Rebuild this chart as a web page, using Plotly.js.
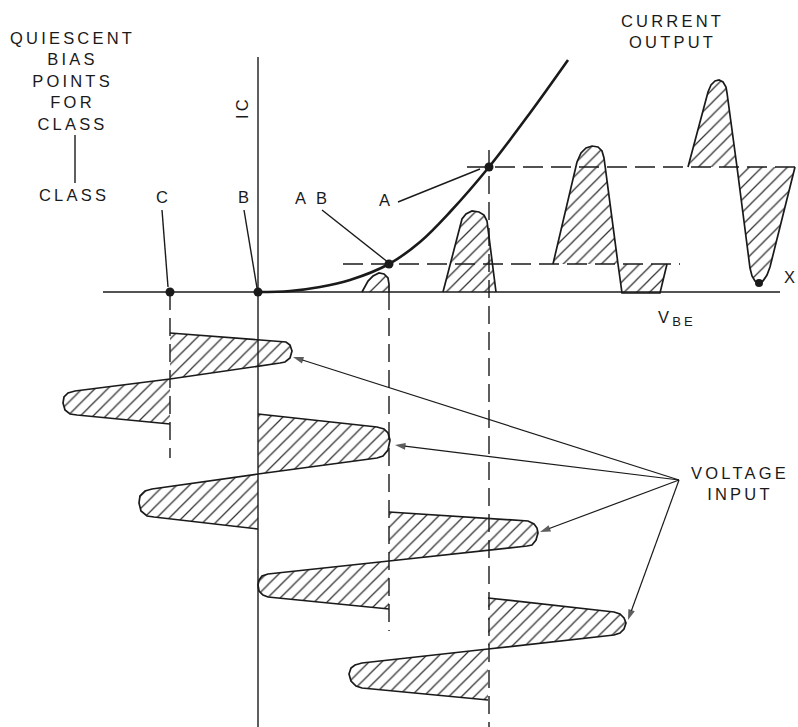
<!DOCTYPE html>
<html>
<head>
<meta charset="utf-8">
<script src="https://cdn.plot.ly/plotly-3.0.1.min.js"></script>
<style>
  html, body { margin: 0; padding: 0; background: #fff; }
  #chart { width: 798px; height: 727px; }
  .annotation-text { letter-spacing: 3.2px; }
</style>
</head>
<body>
<div id="chart"></div>
<script>
// ---- Data (diagram units: x to the right, y downward) ----
const biasClass = ['C', 'B', 'A B', 'A'];
const biasX = [170, 258, 389, 489];
const biasY = [292, 292, 264, 167];

// transfer characteristic Ic vs Vbe
const curveX = [258, 290, 320, 350, 389, 420, 450, 489, 530, 568];
const curveY = [292, 291, 287, 280, 264, 242, 212, 167, 113, 60];

// voltage input waveforms (two lobes each, separated by null)
const inputCX  = [170, 280, 286, 290, 292, 290, 285, 280, 170, null, 170, 75, 68, 64, 63, 65, 70, 77, 170];
const inputCY  = [333, 341, 342, 345, 351, 358, 362, 363, 379, null, 379, 391, 393, 397, 403, 410, 414, 415, 424];
const inputBX  = [258, 377, 384, 388, 390, 388, 383, 377, 258, null, 258, 152, 145, 140, 139, 141, 147, 154, 258];
const inputBY  = [414, 427, 429, 433, 440, 450, 456, 458, 474, null, 474, 489, 491, 496, 503, 511, 516, 517, 529];
const inputABX = [389, 528, 534, 537, 538, 536, 532, 527, 389, null, 389, 268, 262, 259, 258, 259, 263, 268, 389];
const inputABY = [512, 521, 524, 528, 533, 540, 545, 546, 561, null, 561, 574, 576, 580, 585, 591, 595, 597, 609];
const inputAX  = [488, 614, 620, 624, 626, 624, 620, 614, 488, null, 488, 362, 355, 351, 349, 351, 356, 362, 488];
const inputAY  = [598, 612, 614, 618, 623, 629, 633, 635, 649, null, 649, 663, 665, 668, 674, 681, 686, 688, 700];

// current output waveforms
const outCX  = [362, 368, 373, 379, 384, 388, 389, 389];
const outCY  = [292, 281, 276, 273, 274, 278, 284, 292];
const outBX  = [443, 458, 462, 466, 472, 479, 484, 487, 490, 496];
const outBY  = [292, 232, 219, 214, 211, 212, 215, 221, 245, 292];
const outABX = [553, 577, 581, 586, 592, 598, 602, 604, 618, 622, 660, 667];
const outABY = [264, 162, 153, 148, 146, 147, 151, 158, 264, 293, 293, 264];
const outAX  = [688, 708, 711, 715, 719, 723, 726, 727, 737, 750, 752, 755, 759, 763, 767, 770, 795];
const outAY  = [167, 92, 85, 81, 80, 82, 87, 93, 167, 268, 276, 281, 283, 281, 275, 267, 167];
const peakX = [759];
const peakY = [283];

// guide extents
const vGuideTop    = [292, null, 292, 150];
const vGuideBottom = [458, null, 631, 727];
const hGuideLeft   = [null, null, 343, 467];
const hGuideRight  = [null, null, 680, 795];

// axes
const vbeAxisX = [103, 780];
const vbeAxisY = [292, 292];
const icAxisX = [258, 258];
const icAxisY = [57, 727];

// label leader lines
const leaderX = [162, 168, null, 244, 257, null, 322, 389, null, 398, 480, null, 75, 75];
const leaderY = [210, 287, null, 210, 288, null, 210, 263, null, 202, 169, null, 135, 183];

// arrows from "VOLTAGE INPUT"
const arrowFromX = 679, arrowFromY = 480;
const arrowToX = [293, 395, 540, 628];
const arrowToY = [357, 445, 532, 620];

// ---- Build traces ----
const ink = '#1a1a1a';
const hatch = {shape: '/', size: 9, solidity: 0.14, fgcolor: '#333', bgcolor: '#fff'};
function hatched(x, y, w) {
  return {x, y, type: 'scatter', mode: 'lines', fill: 'toself', fillcolor: '#fff',
          fillpattern: hatch, line: {color: ink, width: w || 1.7}, hoverinfo: 'skip', connectgaps: false};
}
function line(x, y, w, dash, shape) {
  return {x, y, type: 'scatter', mode: 'lines',
          line: {color: ink, width: w, dash: dash || 'solid', shape: shape || 'linear'},
          hoverinfo: 'skip', connectgaps: false};
}

const traces = [];
[[inputCX, inputCY], [inputBX, inputBY], [inputABX, inputABY], [inputAX, inputAY],
 [outCX, outCY], [outBX, outBY], [outABX, outABY], [outAX, outAY]].forEach(p => traces.push(hatched(p[0], p[1])));

// dashed guides
const gvx = [], gvy = [], ghx = [], ghy = [];
for (let i = 0; i < biasX.length; i++) {
  if (vGuideTop[i] !== null) { gvx.push(biasX[i], biasX[i], null); gvy.push(vGuideTop[i], vGuideBottom[i], null); }
  if (hGuideLeft[i] !== null) { ghx.push(hGuideLeft[i], hGuideRight[i], null); ghy.push(biasY[i], biasY[i], null); }
}
traces.push(line(gvx, gvy, 1.4, '18px,8px'));
traces.push(line(ghx, ghy, 1.6, '20px,8px'));

traces.push(line(vbeAxisX, vbeAxisY, 1.6));
traces.push(line(icAxisX, icAxisY, 1.4));
traces.push(line(curveX, curveY, 2.6, 'solid', 'spline'));
traces.push(line(leaderX, leaderY, 1.4));

// arrows: line plus arrow-head marker at the tip
for (let i = 0; i < arrowToX.length; i++) {
  traces.push({x: [arrowFromX, arrowToX[i]], y: [arrowFromY, arrowToY[i]], type: 'scatter', mode: 'lines+markers',
               line: {color: ink, width: 1.2},
               marker: {symbol: ['circle', 'arrow'], size: [0, 11], angleref: 'previous', color: ink,
                        line: {width: 0}},
               hoverinfo: 'skip'});
}

traces.push({x: biasX, y: biasY, type: 'scatter', mode: 'markers',
             marker: {color: ink, size: 9}, hoverinfo: 'skip'});
traces.push({x: peakX, y: peakY, type: 'scatter', mode: 'markers',
             marker: {color: ink, size: 8}, hoverinfo: 'skip'});

// ---- Annotations ----
const font = {family: 'Liberation Sans, Arial, sans-serif', size: 16.5, color: ink};
function lab(text, x, y, extra) {
  return Object.assign({text, x, y, xref: 'x', yref: 'y', showarrow: false, font,
                        xanchor: 'center', yanchor: 'middle', align: 'center'}, extra || {});
}
const annotations = [
  lab('QUIESCENT<br>BIAS<br>POINTS<br>FOR<br>CLASS', 72, 81),
  lab('CLASS', 74, 195),
  lab(biasClass[0], 163, 197),
  lab(biasClass[1], 245, 197),
  lab(biasClass[2], 312, 198),
  lab(biasClass[3], 386, 200),
  lab('IC', 242, 108, {textangle: -90}),
  lab('CURRENT<br>OUTPUT', 672, 31),
  lab('V<sub><span style="font-size:13px">BE</span></sub>', 677, 318),
  lab('X', 791, 277),
  lab('VOLTAGE<br>INPUT', 740, 483)
];

const layout = {
  width: 798, height: 727,
  margin: {l: 0, r: 0, t: 0, b: 0},
  paper_bgcolor: '#fff', plot_bgcolor: '#fff',
  showlegend: false,
  xaxis: {range: [0, 798], visible: false, fixedrange: true},
  yaxis: {range: [727, 0], visible: false, fixedrange: true},
  annotations
};

Plotly.newPlot('chart', traces, layout, {staticPlot: true, displayModeBar: false});
</script>
</body>
</html>
